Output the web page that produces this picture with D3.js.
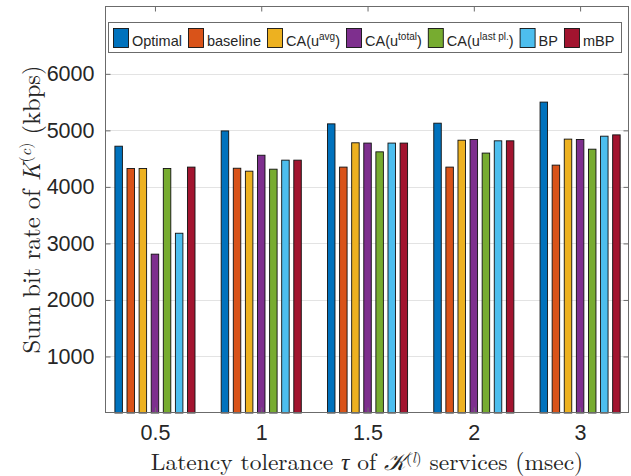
<!DOCTYPE html>
<html>
<head>
<meta charset="utf-8">
<script src="https://cdn.jsdelivr.net/npm/d3@7"></script>
<style>
  html, body { margin: 0; padding: 0; background: #fff; }
  svg { display: block; }
</style>
</head>
<body>
<svg id="chart" width="631" height="476"></svg>
<script>
// tau values (msec) along the x axis
const categories = ['0.5', '1', '1.5', '2', '3'];

const seriesNames = ['Optimal', 'baseline', 'CA(u^avg)', 'CA(u^total)', 'CA(u^last pl.)', 'BP', 'mBP'];
const seriesColors = ['#0072BD', '#D95319', '#EDB120', '#7E2F8E', '#77AC30', '#4DBEEE', '#A2142F'];

// sum bit rate (kbps), one value per category
const optimal   = [4720, 4990, 5115, 5127, 5500];
const baseline  = [4325, 4330, 4350, 4350, 4385];
const caAvg     = [4325, 4278, 4780, 4826, 4845];
const caTotal   = [2810, 4560, 4775, 4838, 4838];
const caLastPl  = [4325, 4313, 4620, 4598, 4667];
const bp        = [3180, 4473, 4775, 4815, 4897];
const mbp       = [4350, 4473, 4775, 4815, 4920];

const yTicks = [1000, 2000, 3000, 4000, 5000, 6000];

const allSeries = [optimal, baseline, caAvg, caTotal, caLastPl, bp, mbp];

const svg = d3.select('#chart');
const plotL = 105, plotR = 629, plotT = 6, plotB = 413;
const axisColor = '#6b6b6b';
const textColor = '#262626';

const x = d3.scaleLinear().domain([-0.47, 4.46]).range([plotL, plotR]);
const y = d3.scaleLinear().domain([0, 7200]).range([plotB, plotT]);
const xSub = d3.scaleBand()
  .domain(d3.range(seriesNames.length))
  .range([-42.35, 42.35])
  .paddingInner(0.38)
  .paddingOuter(0.19);

// grid
svg.append('g')
  .selectAll('line')
  .data(yTicks)
  .enter()
  .append('line')
  .attr('x1', plotL)
  .attr('x2', plotR)
  .attr('y1', d => Math.round(y(d)) + 0.5)
  .attr('y2', d => Math.round(y(d)) + 0.5)
  .attr('stroke', '#e3e3e3')
  .attr('stroke-width', 1);

// bars
const bars = svg.append('g');
allSeries.forEach((vals, s) => {
  bars.selectAll(null)
    .data(vals)
    .enter()
    .append('rect')
    .attr('x', (d, i) => x(i) + xSub(s))
    .attr('y', d => y(d))
    .attr('width', xSub.bandwidth())
    .attr('height', d => y(0) - y(d))
    .attr('fill', seriesColors[s])
    .attr('stroke', '#111')
    .attr('stroke-width', 0.9);
});

// axes
const yLeft = d3.axisLeft(y).tickValues(yTicks).tickFormat(d3.format('d'))
  .tickSizeInner(-5).tickSizeOuter(0).tickPadding(11);
svg.append('g')
  .attr('transform', `translate(${plotL + 0.5},0)`)
  .call(yLeft)
  .call(g => g.select('.domain').remove())
  .call(g => g.selectAll('line').attr('stroke', axisColor))
  .call(g => g.selectAll('text')
    .attr('fill', textColor)
    .style('font-family', 'Liberation Sans, Arial, sans-serif')
    .style('font-size', '21.5px'));

const yRight = d3.axisRight(y).tickValues(yTicks).tickSizeInner(-5).tickSizeOuter(0).tickFormat('');
svg.append('g')
  .attr('transform', `translate(${plotR - 0.5},0)`)
  .call(yRight)
  .call(g => g.select('.domain').remove())
  .call(g => g.selectAll('line').attr('stroke', axisColor));

const xBottom = d3.axisBottom(x).tickValues(d3.range(categories.length))
  .tickFormat(i => categories[i]).tickSizeInner(-5).tickSizeOuter(0).tickPadding(12);
svg.append('g')
  .attr('transform', `translate(0,${plotB - 0.5})`)
  .call(xBottom)
  .call(g => g.select('.domain').remove())
  .call(g => g.selectAll('line').attr('stroke', axisColor))
  .call(g => g.selectAll('text')
    .attr('fill', textColor)
    .style('font-family', 'Liberation Sans, Arial, sans-serif')
    .style('font-size', '21.5px'));

const xTop = d3.axisTop(x).tickValues(d3.range(categories.length))
  .tickFormat('').tickSizeInner(-5).tickSizeOuter(0);
svg.append('g')
  .attr('transform', `translate(0,${plotT + 0.5})`)
  .call(xTop)
  .call(g => g.select('.domain').remove())
  .call(g => g.selectAll('line').attr('stroke', axisColor));

// box
svg.append('rect')
  .attr('x', plotL + 0.5)
  .attr('y', plotT + 0.5)
  .attr('width', plotR - plotL - 1)
  .attr('height', plotB - plotT - 1)
  .attr('fill', 'none')
  .attr('stroke', axisColor)
  .attr('stroke-width', 1);

// legend
const legend = svg.append('g');
legend.append('rect')
  .attr('x', 108.5)
  .attr('y', 22.5)
  .attr('width', 513)
  .attr('height', 30)
  .attr('fill', '#fff')
  .attr('stroke', axisColor)
  .attr('stroke-width', 1);

let lx = 113;
seriesNames.forEach((name, s) => {
  legend.append('rect')
    .attr('x', lx + 0.5)
    .attr('y', 28.5)
    .attr('width', 15)
    .attr('height', 19)
    .attr('fill', seriesColors[s])
    .attr('stroke', '#111')
    .attr('stroke-width', 0.9);
  const t = legend.append('text')
    .attr('x', lx + 19)
    .attr('y', 46)
    .attr('fill', textColor)
    .style('font-family', 'Liberation Sans, Arial, sans-serif')
    .style('font-size', '14.5px');
  const parts = name.split('^');
  if (parts.length > 1) {
    t.append('tspan').text(parts[0]);
    t.append('tspan').attr('dy', -6).style('font-size', '10px').text(parts[1].replace(')', ''));
    t.append('tspan').attr('dy', 6).text(')');
  } else {
    t.text(name);
  }
  lx += 19 + t.node().getComputedTextLength() + 6;
});

// axis labels
const serif = 'Latin Modern Roman, CMU Serif, Liberation Serif, Times New Roman, serif';
const xl = svg.append('text')
  .attr('x', (plotL + plotR) / 2)
  .attr('y', 469.5)
  .attr('text-anchor', 'middle')
  .attr('fill', textColor)
  .style('font-family', serif)
  .style('font-size', '23.5px');
xl.append('tspan').text('Latency tolerance ');
xl.append('tspan').style('font-style', 'italic').text('τ');
xl.append('tspan').text(' of ');
xl.append('tspan').style('font-family', 'DejaVu Sans, serif').style('font-style', 'italic').text('𝒦');
xl.append('tspan').attr('dy', -7).style('font-size', '15px').text('(');
xl.append('tspan').style('font-size', '15px').style('font-style', 'italic').text('l');
xl.append('tspan').style('font-size', '15px').text(')');
xl.append('tspan').attr('dy', 7).text(' services (msec)');

const yl = svg.append('text')
  .attr('transform', `translate(40,${(plotT + plotB) / 2}) rotate(-90)`)
  .attr('text-anchor', 'middle')
  .attr('fill', textColor)
  .style('font-family', serif)
  .style('font-size', '24.5px');
yl.append('tspan').text('Sum bit rate of ');
yl.append('tspan').style('font-style', 'italic').text('K');
yl.append('tspan').attr('dy', -9).style('font-size', '16px').text('(');
yl.append('tspan').style('font-size', '16px').style('font-style', 'italic').text('c');
yl.append('tspan').style('font-size', '16px').text(')');
yl.append('tspan').attr('dy', 9).text(' (kbps)');
</script>
</body>
</html>
